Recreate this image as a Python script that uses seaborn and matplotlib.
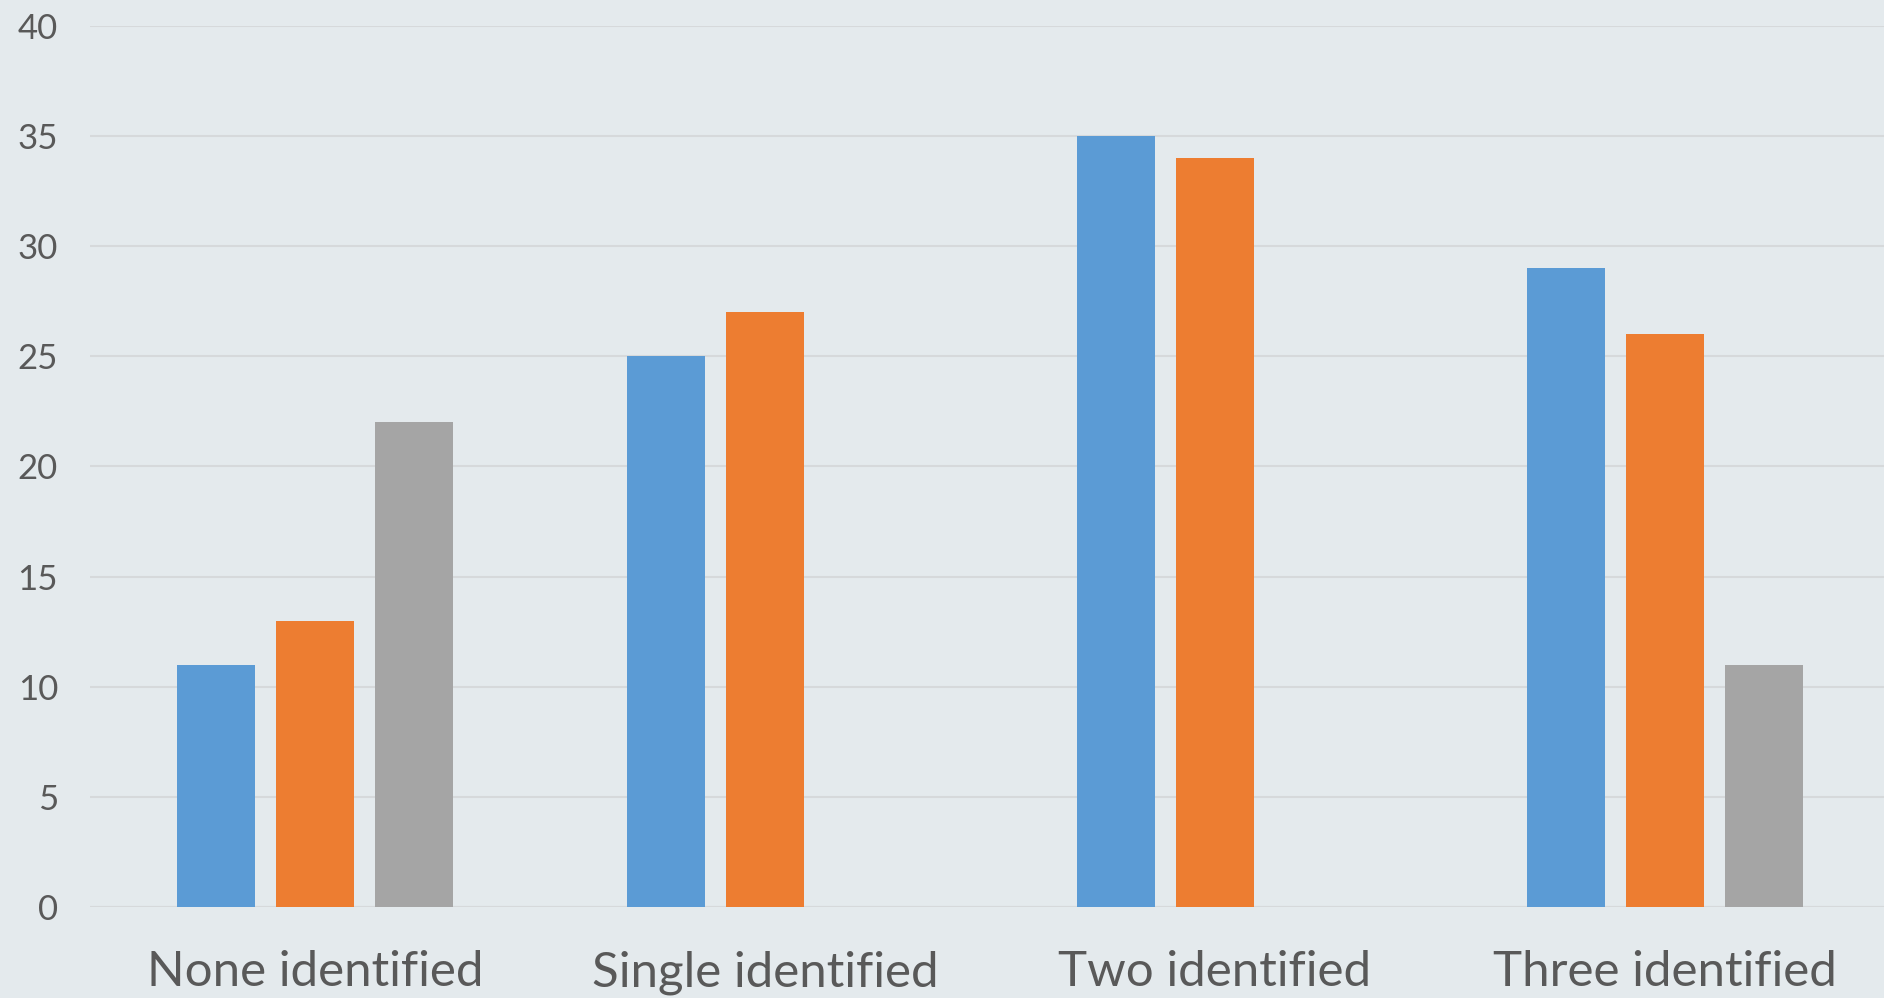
import numpy as np
import pandas as pd
import matplotlib
matplotlib.use("Agg")
import matplotlib.pyplot as plt
import seaborn as sns

categories = ["None identified", "Single identified", "Two identified", "Three identified"]
series_names = ["Series 1", "Series 2", "Series 3"]
series_1 = [11, 25, 35, 29]
series_2 = [13, 27, 34, 26]
series_3 = [22, np.nan, np.nan, 11]
y_ticks = [0, 5, 10, 15, 20, 25, 30, 35, 40]

colors = ["#5B9BD5", "#ED7D31", "#A5A5A5"]
bg = "#E4EAED"

df = pd.DataFrame({
    "category": categories * 3,
    "series": [s for s in series_names for _ in categories],
    "value": series_1 + series_2 + series_3,
})

sns.set_theme(style="white")
plt.rcParams["font.family"] = ["Lato", "DejaVu Sans"]

fig = plt.figure(figsize=(18.84, 9.98), dpi=100, facecolor=bg)
ax = fig.add_axes([90 / 1884, 91 / 998, 1 - 90 / 1884, (907 - 26) / 998])
ax.set_facecolor(bg)

sns.barplot(data=df, x="category", y="value", hue="series", order=categories,
            hue_order=series_names, palette=colors, width=0.66, gap=0.21,
            saturation=1, legend=False, ax=ax, errorbar=None, linewidth=0)

ax.set_ylim(0, 40)
ax.set_xlim(-0.5, (1884 - 315) / 450)
ax.set_yticks(y_ticks)
ax.set_yticklabels([str(t) for t in y_ticks])
ax.yaxis.grid(True, color="#D6D9DB", linewidth=1.5)
ax.set_axisbelow(True)
for s in ax.spines.values():
    s.set_visible(False)
ax.axhline(0, color="#D6D9DB", linewidth=1.5, zorder=0)

ax.tick_params(axis="y", length=0, pad=23, labelsize=25, labelcolor="#595959")
ax.tick_params(axis="x", length=0, pad=31, labelsize=35.5, labelcolor="#595959")
ax.set_xlabel("")
ax.set_ylabel("")

fig.savefig("out.png", dpi=100, facecolor=bg)
